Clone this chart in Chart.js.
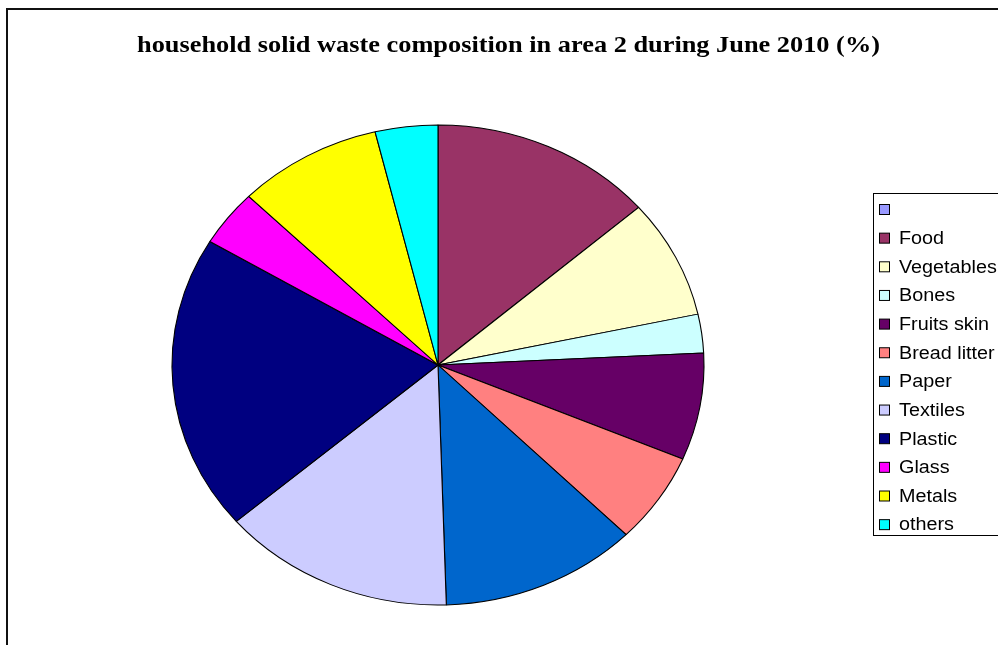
<!DOCTYPE html>
<html>
<head>
<meta charset="utf-8">
<script src="https://cdn.jsdelivr.net/npm/chart.js@4.4.1/dist/chart.umd.min.js"></script>
<style>
  html, body { margin: 0; padding: 0; background: #fff; overflow: hidden; }
  #wrap { position: relative; width: 998px; height: 645px; }
  #frame { position: absolute; left: 6px; top: 8px; width: 1100px; height: 700px; border: 2px solid #111; box-sizing: border-box; }
  canvas { position: absolute; left: 0; top: 0; }
</style>
</head>
<body>
<div id="wrap">
  <div id="frame"></div>
  <canvas id="wasteChart" width="998" height="645"></canvas>
</div>
<script>
// --- DATA ---
const chartTitle = 'household solid waste composition in area 2 during June 2010 (%)';
const categories = ['', 'Food', 'Vegetables', 'Bones', 'Fruits skin', 'Bread litter', 'Paper',
                    'Textiles', 'Plastic', 'Glass', 'Metals', 'others'];
const shares = [0, 13.6, 8.0, 2.6, 7.2, 6.1, 12.0, 14.2, 19.9, 3.8, 8.8, 3.8];
const sliceColors = ['#9999FF', '#993366', '#FFFFCC', '#CCFFFF', '#660066', '#FF8080', '#0066CC',
                     '#CCCCFF', '#000080', '#FF00FF', '#FFFF00', '#00FFFF'];

// pie is drawn a bit wider than tall
const stretchX = 266 / 240;

// squash/stretch the slices around the pie centre
const ellipsePlugin = {
    id: 'ellipse',
    beforeDatasetsDraw(chart) {
        const arc = chart.getDatasetMeta(0).data[0];
        const ctx = chart.ctx;
        ctx.save();
        ctx.translate(arc.x, arc.y);
        ctx.scale(stretchX, 1);
        ctx.translate(-arc.x, -arc.y);
    },
    afterDatasetsDraw(chart) {
        chart.ctx.restore();
    }
};

// title + boxed legend on the right
const decorPlugin = {
    id: 'decor',
    afterDraw(chart) {
        const ctx = chart.ctx;
        ctx.save();

        // title, slightly widened
        ctx.font = 'bold 24px "Liberation Serif", "Times New Roman", serif';
        ctx.fillStyle = '#000';
        ctx.textBaseline = 'alphabetic';
        const tw = ctx.measureText(chartTitle).width;
        const tScale = 743 / tw;
        ctx.save();
        ctx.translate(137, 52);
        ctx.scale(tScale, 1);
        ctx.fillText(chartTitle, 0, 0);
        ctx.restore();

        // legend box
        const boxX = 873.5, boxY = 193.5;
        ctx.strokeStyle = '#000';
        ctx.lineWidth = 1;
        ctx.fillStyle = '#fff';
        ctx.fillRect(boxX, boxY, 200, 342);
        ctx.strokeRect(boxX, boxY, 200, 342);

        const data = chart.data;
        const rowStep = 28.65;
        ctx.font = '17.5px "Liberation Sans", Arial, sans-serif';
        ctx.textBaseline = 'middle';
        data.labels.forEach((lab, i) => {
            const cy = 209.5 + i * rowStep;
            ctx.fillStyle = data.datasets[0].backgroundColor[i];
            ctx.fillRect(879.5, cy - 5, 10, 10);
            ctx.strokeStyle = '#000';
            ctx.strokeRect(879.5, cy - 5, 10, 10);
            ctx.fillStyle = '#000';
            ctx.save();
            ctx.translate(899, cy + 1);
            ctx.scale(1.13, 1);
            ctx.fillText(lab, 0, 0);
            ctx.restore();
        });
        ctx.restore();
    }
};

new Chart(document.getElementById('wasteChart'), {
    type: 'pie',
    data: {
        labels: categories,
        datasets: [{
            data: shares,
            backgroundColor: sliceColors,
            borderColor: '#000',
            borderWidth: 1
        }]
    },
    options: {
        responsive: false,
        animation: false,
        radius: 240,
        layout: { padding: { left: 198, right: 320, top: 125, bottom: 40 } },
        plugins: {
            legend: { display: false },
            title: { display: false },
            tooltip: { enabled: false }
        }
    },
    plugins: [ellipsePlugin, decorPlugin]
});
</script>
</body>
</html>
